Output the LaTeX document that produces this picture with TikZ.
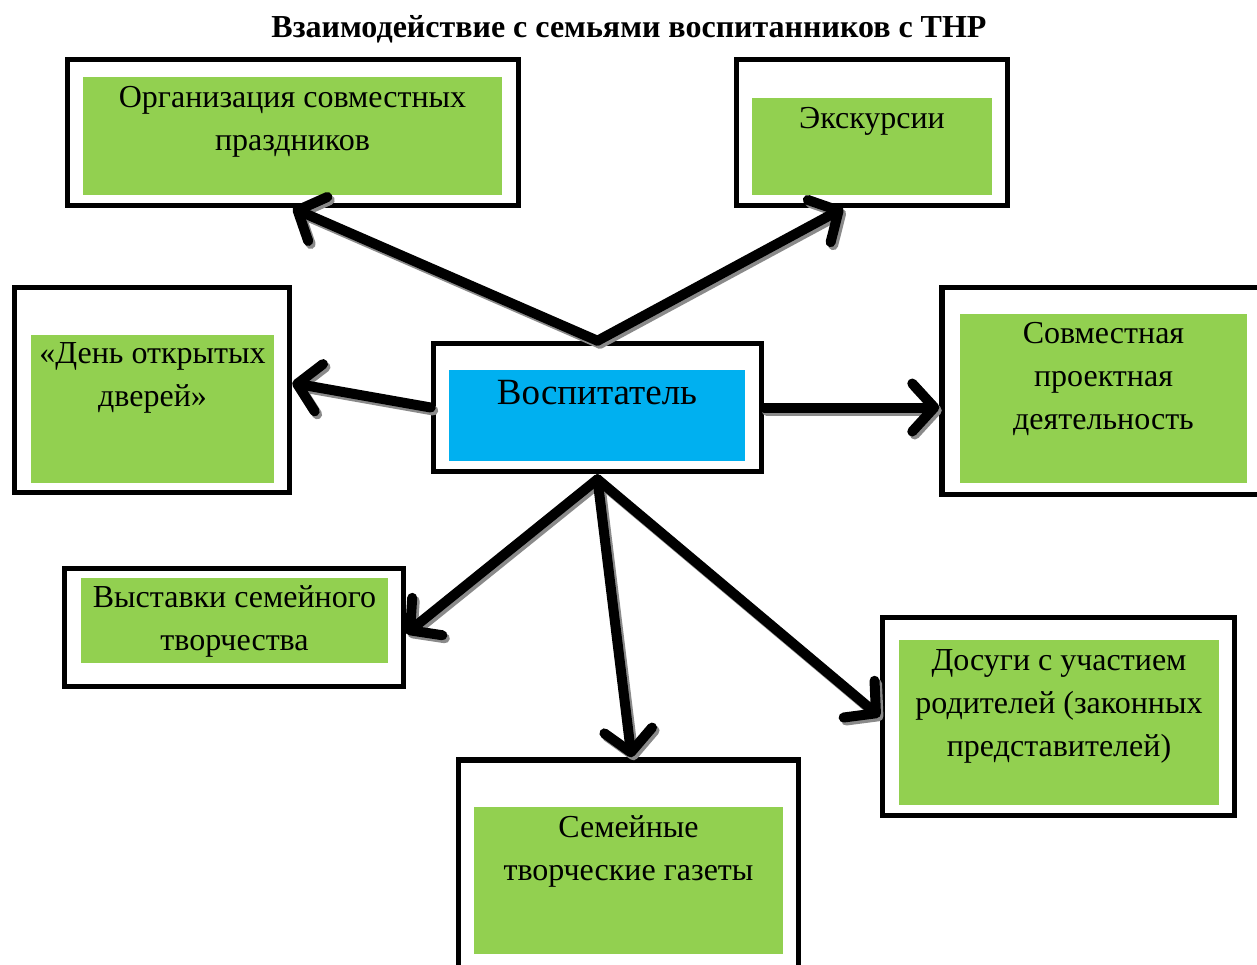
\documentclass[tikz,border=0pt]{standalone}
\usepackage{fontspec}
\setmainfont{Liberation Serif}
\usetikzlibrary{arrows.meta,calc,positioning}
\definecolor{famGreen}{HTML}{92D050}
\definecolor{famBlue}{HTML}{00B0F0}
\definecolor{famShade}{HTML}{8A8A8A}

\begin{document}
\begin{tikzpicture}[x=1pt,y=-1pt,>=Latex,line cap=round,line join=round]
\useasboundingbox[fill=white] (0,0) rectangle (1257,964);
\tikzset{frame/.style={draw=black,fill=white,line width=5.5pt,line join=miter,inner sep=0pt},panel/.style={inner sep=0pt,fill=famGreen},boxtext/.style={anchor=north,align=center,inner sep=0pt,font=\fontsize{32}{43}\selectfont},link/.style={draw=black,line width=10pt,-{Straight Barb[length=22pt,width=48pt,round]}},linkshade/.style={draw=famShade,line width=10pt,-{Straight Barb[length=22pt,width=48pt,round]},transform canvas={shift={(2.5,3)}}}}
\node[font=\bfseries\fontsize{32}{36}\selectfont] (title) at (629,29) {Взаимодействие с семьями воспитанников с ТНР};
% upper row
\node[frame,minimum width=451,minimum height=146] (orgF) at (293,132.5) {};
\node[panel,minimum width=419,minimum height=118] (orgP) at (292.5,136) {};
\node[boxtext] (orgT) at ([yshift=-9]orgP.north) {Организация совместных\\праздников};
\node[frame,minimum width=271,minimum height=146] (exkF) at (872,132.5) {};
\node[panel,minimum width=240,minimum height=97] (exkP) at (872,146.5) {};
\node[boxtext] (exkT) at ([yshift=-9]exkP.north) {Экскурсии};
% middle row
\node[frame,minimum width=275,minimum height=205] (denF) at (152,390) {};
\node[panel,minimum width=243,minimum height=148] (denP) at (152.5,409) {};
\node[boxtext] (denT) at ([yshift=-8]denP.north) {«День открытых\\дверей»};
\node[frame,minimum width=328,minimum height=128] (vosp) at (597.5,407.5) {};
\node[panel,fill=famBlue,minimum width=296,minimum height=91] (vospP) at (597,415.5) {};
\node[boxtext,font=\fontsize{37}{42}\selectfont] (vospT) at ([yshift=-10]vospP.north) {Воспитатель};
\node[frame,minimum width=320,minimum height=207] (sovF) at (1102,391) {};
\node[panel,minimum width=287,minimum height=169] (sovP) at (1103.5,398.5) {};
\node[boxtext] (sovT) at ([yshift=-8]sovP.north) {Совместная\\проектная\\деятельность};
% lower row
\node[frame,minimum width=339,minimum height=118] (vysF) at (234,627.5) {};
\node[panel,minimum width=307,minimum height=85] (vysP) at (234.5,620.5) {};
\node[boxtext] (vysT) at ([yshift=-8]vysP.north) {Выставки семейного\\творчества};
\node[frame,minimum width=340,minimum height=215] (gazF) at (628.5,867.5) {};
\node[panel,minimum width=309,minimum height=147] (gazP) at (628.5,880.5) {};
\node[boxtext] (gazT) at ([yshift=-9]gazP.north) {Семейные\\творческие газеты};
\node[frame,minimum width=352,minimum height=198] (dosF) at (1058.5,716.5) {};
\node[panel,minimum width=320,minimum height=165] (dosP) at (1059,722.5) {};
\node[boxtext] (dosT) at ([yshift=-10]dosP.north) {Досуги с участием\\родителей (законных\\представителей)};
% arrow ends
\coordinate (vospTop) at (vosp.north); \coordinate (vospLow) at ([yshift=-5]vosp.south);
\coordinate (vospL) at (vosp.west); \coordinate (vospR) at (vosp.east);
\coordinate (orgIn) at (orgF.south); \coordinate (exkIn) at ([xshift=-29]exkF.south);
\coordinate (denIn) at ([yshift=7]denF.east); \coordinate (sovIn) at (vosp.east -| sovF.west);
\coordinate (vysIn) at ([yshift=-6]vysF.east); \coordinate (gazIn) at ([xshift=3]gazF.north);
\coordinate (dosIn) at (dosF.west);
% arrows from the centre, grey shade first
\foreach \src/\dst in {vospTop/orgIn,vospTop/exkIn,vospL/denIn,vospR/sovIn,vospLow/vysIn,vospLow/gazIn,vospLow/dosIn}
{\draw[linkshade] (\src) -- (\dst);}
\foreach \src/\dst in {vospTop/orgIn,vospTop/exkIn,vospL/denIn,vospR/sovIn,vospLow/vysIn,vospLow/gazIn,vospLow/dosIn}
{\draw[link] (\src) -- (\dst);}
\end{tikzpicture}
\end{document}
